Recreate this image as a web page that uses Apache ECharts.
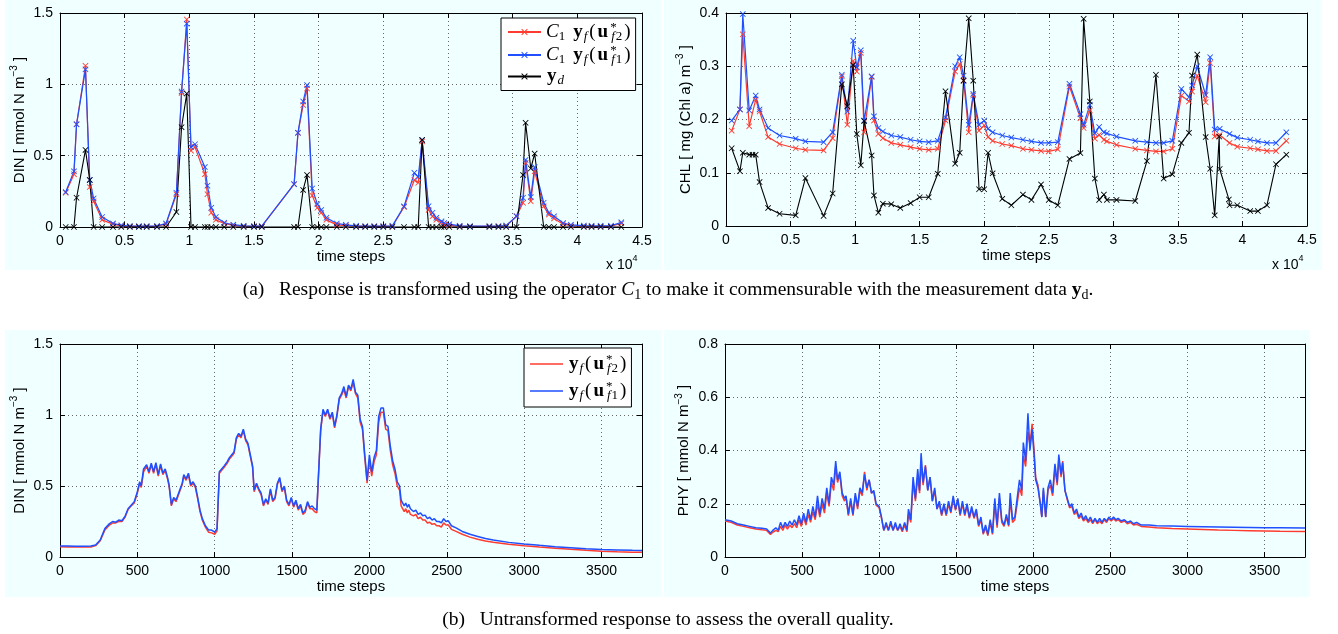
<!DOCTYPE html>
<html><head><meta charset="utf-8">
<script src="https://cdn.jsdelivr.net/npm/echarts@6/dist/echarts.min.js"></script>
<style>html,body{margin:0;padding:0;background:#fff}#c{width:1338px;height:634px}</style>
</head><body><div id="c"></div>
<script>
// ---------- (a) left: DIN, transformed response vs measurements ----------
const dinT = [440,1080,1280,1970,2300,2600,3260,4100,4740,5400,6100,6700,7500,8200,9000,9400,9800,10130,10440,11200,11400,11700,12050,12700,13400,14200,15000,15600,18100,18400,18800,19100,19500,19900,20200,20600,21400,22100,22900,23600,24300,25000,25700,26600,27400,27700,28000,28500,28800,29100,29500,29700,30100,30900,31700,33200,33900,34500,35300,35800,36000,36400,36700,37400,37800,38200,38900,39500,40500,41100,41800,42600,43400];
const dinFit2 = [0.24,0.37,0.72,1.13,0.28,0.18,0.05,0.02,0.008,0.005,0.005,0.005,0.006,0.02,0.23,0.94,1.455,0.535,0.56,0.37,0.23,0.10,0.05,0.025,0.012,0.006,0.005,0.005,0.30,0.66,0.855,0.97,0.22,0.135,0.10,0.05,0.015,0.01,0.006,0.005,0.005,0.005,0.006,0.14,0.33,0.31,0.60,0.12,0.075,0.05,0.03,0.015,0.012,0.006,0.005,0.005,0.005,0.008,0.075,0.17,0.45,0.18,0.39,0.145,0.087,0.06,0.02,0.01,0.005,0.005,0.005,0.005,0.025];
const dinFit1 = [0.245,0.39,0.72,1.105,0.33,0.20,0.07,0.025,0.012,0.007,0.006,0.006,0.007,0.025,0.24,0.95,1.425,0.56,0.58,0.42,0.29,0.135,0.07,0.03,0.016,0.008,0.006,0.006,0.30,0.66,0.88,0.995,0.27,0.16,0.12,0.065,0.025,0.015,0.008,0.006,0.006,0.006,0.008,0.145,0.38,0.35,0.61,0.146,0.10,0.064,0.04,0.028,0.02,0.008,0.006,0.006,0.006,0.01,0.075,0.205,0.47,0.21,0.42,0.17,0.10,0.075,0.028,0.015,0.01,0.008,0.008,0.008,0.033];
const dinObs = [0,0,0.205,0.54,0.33,0,0,0,0,0,0,0,0,0,0.105,0.70,0.935,0,0,0,0,0,0,0,0,0,0,0,0,0,0.26,0.365,0,0,0,0,0,0,0,0,0,0,0,0,0,0,0.61,0,0,0,0,0,0,0,0,0,0,0,0,0.365,0.73,0.41,0.515,0,0,0,0,0,0,0,0,0,0];

// ---------- (a) right: CHL ----------
const chlT = [440,1080,1300,1800,2050,2300,2600,3260,4150,5400,6150,7560,8260,8970,9400,9850,10130,10440,10700,11280,11460,11800,12150,12800,13500,14300,15000,15700,16400,17000,17750,18100,18400,18800,19150,19600,20000,20300,20650,21400,22100,23000,23660,24400,25000,25700,26600,27450,27700,28180,28570,28900,29270,29500,30250,31700,32600,33300,33900,34570,35270,35860,36100,36500,37150,37500,37850,38200,38240,38950,39000,39600,40600,41200,41900,42600,43400];
const chlFit2 = [0.179,0.219,0.36,0.1875,null,0.2375,0.215,0.167,0.154,0.146,0.143,0.142,0.165,0.281,0.19,0.31,0.29,0.325,0.176,0.28,0.198,0.173,0.165,0.156,0.1525,0.148,0.145,0.143,0.145,0.198,0.29,0.304,0.273,0.176,0.245,0.179,0.189,0.167,0.16,0.154,0.151,0.145,0.143,0.141,0.14,0.144,0.262,0.2025,0.184,0.217,0.164,0.171,0.162,0.159,0.1525,0.145,0.142,0.14,0.14,0.145,0.245,0.234,0.2525,0.2825,0.2325,0.306,0.168,null,0.171,null,0.156,0.149,0.146,0.144,0.141,0.141,0.16];
const chlFit1 = [0.198,0.219,0.398,0.217,null,0.245,0.219,0.184,0.17,0.164,0.159,0.1575,0.176,0.284,0.215,0.348,0.298,0.33,0.198,0.281,0.206,0.184,0.1775,0.17,0.167,0.162,0.159,0.1575,0.16,0.204,0.30,0.317,0.2825,0.19,0.248,0.19,0.198,0.1825,0.176,0.17,0.166,0.162,0.159,0.156,0.156,0.1575,0.267,0.21,0.19,0.2275,0.174,0.186,0.176,0.174,0.168,0.16,0.1575,0.156,0.156,0.16,0.2575,0.242,0.264,0.30,0.246,0.317,0.181,null,0.1825,null,0.173,0.166,0.162,0.159,0.156,0.156,0.176];
const chlObs = [0.146,0.103,0.1375,0.134,0.134,0.134,0.0825,0.034,0.023,0.02,0.09,0.019,0.061,0.266,0.225,0.3025,0.173,0.114,0.197,0.1325,0.0575,0.025,0.042,0.041,0.034,0.043,0.054,0.054,0.098,0.253,0.117,0.1375,0.273,0.39,0.273,0.069,0.069,0.1375,0.099,0.051,0.039,0.059,0.049,0.078,0.049,0.039,0.126,0.137,0.389,0.234,0.089,0.049,0.059,0.049,0.049,0.047,0.122,0.284,0.089,0.097,0.156,0.175,0.2825,0.322,0.167,0.1075,0.02,0.168,0.107,0.05,0.039,0.039,0.028,0.028,0.039,0.116,0.134];

// ---------- (b) left: DIN untransformed ----------
const dinFullT = [0,50,100,150,200,230,260,290,320,340,360,380,400,420,440,460,480,500,515,525,540,560,575,590,605,620,635,650,665,680,695,705,720,735,750,770,790,800,815,830,845,860,875,890,905,920,940,960,980,1000,1015,1030,1045,1060,1080,1095,1110,1125,1140,1155,1170,1185,1200,1215,1230,1245,1255,1270,1285,1300,1315,1330,1345,1360,1375,1390,1405,1420,1435,1450,1465,1480,1495,1510,1525,1540,1555,1570,1585,1600,1615,1630,1645,1660,1670,1685,1700,1715,1730,1745,1760,1775,1790,1805,1820,1835,1850,1865,1880,1895,1910,1925,1940,1955,1970,1985,2000,2015,2030,2045,2060,2075,2090,2105,2120,2135,2150,2165,2180,2195,2205,2215,2225,2235,2245,2255,2265,2275,2285,2300,2315,2330,2345,2360,2375,2390,2405,2420,2435,2450,2465,2480,2495,2510,2530,2560,2600,2650,2700,2750,2800,2900,3000,3100,3200,3300,3400,3500,3600,3700,3762];
const dinFull2 = [0.072,0.071,0.07,0.07,0.071,0.08,0.115,0.19,0.225,0.24,0.24,0.25,0.25,0.28,0.335,0.36,0.38,0.45,0.52,0.49,0.60,0.64,0.59,0.65,0.59,0.655,0.57,0.645,0.58,0.61,0.55,0.50,0.36,0.41,0.39,0.45,0.51,0.57,0.54,0.58,0.50,0.52,0.49,0.41,0.32,0.26,0.21,0.175,0.17,0.16,0.185,0.59,0.61,0.63,0.66,0.69,0.71,0.73,0.83,0.86,0.84,0.89,0.82,0.79,0.71,0.63,0.46,0.51,0.47,0.44,0.36,0.40,0.37,0.47,0.39,0.41,0.51,0.55,0.46,0.49,0.39,0.36,0.41,0.35,0.39,0.33,0.36,0.30,0.315,0.38,0.34,0.34,0.32,0.31,0.55,0.89,1.03,0.99,1.03,0.97,1.01,0.91,0.99,1.11,1.14,1.18,1.12,1.20,1.17,1.23,1.15,1.12,0.95,0.90,0.70,0.52,0.68,0.57,0.67,0.72,0.95,1.02,1.02,0.90,0.89,0.75,0.65,0.59,0.50,0.47,0.36,0.35,0.32,0.34,0.31,0.33,0.30,0.31,0.29,0.30,0.27,0.28,0.26,0.26,0.24,0.245,0.23,0.235,0.22,0.22,0.21,0.24,0.225,0.225,0.195,0.18,0.16,0.14,0.125,0.113,0.104,0.09,0.079,0.07,0.062,0.054,0.047,0.041,0.037,0.034,0.033];
const dinFull1 = [0.078,0.077,0.076,0.076,0.077,0.085,0.12,0.20,0.235,0.25,0.245,0.26,0.255,0.285,0.34,0.365,0.39,0.46,0.53,0.50,0.62,0.65,0.60,0.66,0.60,0.665,0.58,0.655,0.59,0.62,0.56,0.51,0.37,0.42,0.40,0.46,0.52,0.58,0.55,0.59,0.51,0.53,0.50,0.42,0.33,0.27,0.22,0.19,0.19,0.175,0.20,0.60,0.62,0.64,0.67,0.70,0.72,0.74,0.84,0.87,0.85,0.90,0.83,0.80,0.72,0.64,0.47,0.52,0.48,0.45,0.37,0.41,0.38,0.48,0.40,0.42,0.52,0.56,0.47,0.50,0.40,0.37,0.42,0.36,0.40,0.34,0.37,0.31,0.33,0.39,0.35,0.36,0.34,0.33,0.56,0.90,1.04,1.00,1.04,0.98,1.02,0.92,1.00,1.12,1.15,1.20,1.13,1.21,1.18,1.25,1.16,1.14,0.97,0.92,0.72,0.54,0.72,0.60,0.70,0.75,0.99,1.05,1.05,0.93,0.92,0.78,0.68,0.62,0.53,0.50,0.40,0.39,0.36,0.38,0.35,0.37,0.34,0.35,0.32,0.33,0.30,0.31,0.29,0.295,0.27,0.28,0.26,0.27,0.25,0.25,0.24,0.27,0.25,0.255,0.22,0.205,0.18,0.16,0.145,0.13,0.12,0.103,0.092,0.082,0.073,0.066,0.058,0.053,0.05,0.047,0.046];

// ---------- (b) right: PHY untransformed ----------
const phyT = [0,40,80,120,160,200,240,270,295,310,330,345,360,375,390,405,420,435,450,465,480,495,510,525,540,555,570,585,600,615,630,645,660,675,690,705,718,730,745,760,775,785,800,815,830,845,860,875,890,905,920,935,950,965,980,1000,1015,1030,1045,1060,1075,1090,1105,1120,1135,1150,1165,1180,1190,1205,1220,1235,1250,1262,1272,1285,1300,1315,1330,1345,1360,1375,1390,1405,1420,1435,1450,1465,1480,1495,1510,1525,1540,1555,1570,1585,1600,1615,1630,1645,1660,1675,1690,1705,1720,1735,1750,1765,1780,1795,1810,1825,1840,1850,1865,1880,1895,1910,1925,1935,1950,1965,1978,1992,2005,2015,2030,2045,2055,2065,2080,2095,2110,2125,2140,2155,2165,2180,2190,2205,2220,2235,2250,2265,2280,2295,2310,2325,2340,2355,2370,2385,2400,2415,2430,2445,2460,2475,2490,2505,2520,2535,2550,2570,2590,2610,2630,2650,2670,2700,2750,2800,2900,3000,3100,3200,3300,3400,3500,3600,3762];
const phy2 = [0.135,0.13,0.12,0.115,0.11,0.105,0.102,0.10,0.085,0.093,0.10,0.095,0.115,0.10,0.12,0.105,0.12,0.11,0.125,0.11,0.14,0.115,0.15,0.12,0.16,0.13,0.17,0.14,0.20,0.15,0.20,0.165,0.24,0.19,0.28,0.25,0.34,0.28,0.31,0.23,0.21,0.225,0.155,0.21,0.155,0.23,0.18,0.25,0.23,0.32,0.25,0.29,0.24,0.245,0.195,0.185,0.145,0.10,0.12,0.10,0.125,0.10,0.12,0.10,0.115,0.095,0.12,0.095,0.16,0.13,0.28,0.21,0.30,0.24,0.35,0.27,0.345,0.25,0.30,0.21,0.25,0.18,0.20,0.155,0.19,0.155,0.20,0.165,0.22,0.175,0.215,0.155,0.20,0.155,0.19,0.145,0.18,0.145,0.17,0.115,0.14,0.085,0.11,0.08,0.13,0.085,0.20,0.11,0.22,0.13,0.115,0.15,0.115,0.22,0.13,0.14,0.20,0.26,0.23,0.38,0.34,0.47,0.42,0.50,0.40,0.30,0.27,0.20,0.15,0.25,0.15,0.25,0.27,0.23,0.33,0.27,0.37,0.30,0.36,0.25,0.215,0.185,0.19,0.16,0.17,0.145,0.155,0.135,0.145,0.13,0.14,0.125,0.14,0.125,0.135,0.125,0.14,0.13,0.145,0.135,0.145,0.135,0.14,0.13,0.135,0.125,0.13,0.12,0.123,0.115,0.113,0.11,0.107,0.105,0.103,0.101,0.10,0.099,0.098,0.097,0.096];
const phy1 = [0.14,0.135,0.125,0.12,0.115,0.11,0.108,0.105,0.09,0.10,0.11,0.10,0.13,0.11,0.13,0.115,0.135,0.12,0.14,0.12,0.155,0.125,0.165,0.13,0.18,0.14,0.19,0.15,0.23,0.16,0.22,0.18,0.26,0.20,0.30,0.27,0.36,0.29,0.32,0.24,0.22,0.23,0.16,0.22,0.16,0.24,0.19,0.26,0.24,0.31,0.26,0.29,0.24,0.25,0.20,0.19,0.15,0.10,0.13,0.10,0.135,0.10,0.13,0.10,0.125,0.10,0.13,0.10,0.18,0.14,0.30,0.22,0.33,0.25,0.39,0.28,0.34,0.25,0.30,0.21,0.26,0.18,0.21,0.16,0.20,0.16,0.21,0.17,0.23,0.18,0.22,0.16,0.21,0.16,0.20,0.15,0.19,0.15,0.18,0.12,0.15,0.09,0.12,0.085,0.14,0.09,0.22,0.12,0.24,0.14,0.12,0.16,0.12,0.24,0.14,0.15,0.22,0.29,0.25,0.43,0.36,0.54,0.40,0.48,0.38,0.29,0.26,0.20,0.15,0.26,0.15,0.26,0.29,0.24,0.35,0.28,0.385,0.31,0.355,0.25,0.22,0.19,0.20,0.165,0.18,0.15,0.165,0.14,0.155,0.135,0.15,0.13,0.145,0.13,0.145,0.13,0.145,0.135,0.15,0.14,0.15,0.14,0.145,0.135,0.14,0.13,0.135,0.125,0.13,0.12,0.12,0.117,0.116,0.115,0.114,0.113,0.112,0.111,0.11,0.11,0.109];

const RED = '#ff3b30', BLUE = '#1f4fff', BLACK = '#000000';
const SANS = "'Liberation Sans', Arial, Helvetica, sans-serif";
const SERIF = "'Liberation Serif', 'Times New Roman', serif";
const XMARK = 'path://M0,1L1,0L5,4L9,0L10,1L6,5L10,9L9,10L5,6L1,10L0,9L4,5Z';

function pairs(xs, ys) { return xs.map((x, i) => [x, ys[i]]); }

const grids = [
  {left: 60, top: 13, width: 582, height: 214},
  {left: 726, top: 13, width: 581, height: 213},
  {left: 60, top: 344, width: 582, height: 213},
  {left: 725, top: 344, width: 580, height: 213}
];

function xPair(gi, max, interval, fmt, showMax) {
  return [
    {gridIndex: gi, type: 'value', min: 0, max: max, interval: interval, position: 'bottom',
     axisLine: {show: true, onZero: false, lineStyle: {color: '#000', width: 1}},
     axisTick: {show: true, inside: true, length: 5, lineStyle: {color: '#000'}},
     axisLabel: {color: '#000', fontSize: 14, fontFamily: SANS, margin: 7, formatter: fmt, showMaxLabel: showMax, showMinLabel: true, hideOverlap: false},
     splitLine: {show: true, lineStyle: {color: '#666', type: [1, 3], width: 1}},
     name: 'time steps', nameLocation: 'middle', nameGap: 22,
     nameTextStyle: {color: '#000', fontSize: 15, fontFamily: SANS}},
    {gridIndex: gi, type: 'value', min: 0, max: max, interval: interval, position: 'top',
     axisLine: {show: true, onZero: false, lineStyle: {color: '#000', width: 1}},
     axisTick: {show: true, inside: true, length: 5, lineStyle: {color: '#000'}},
     axisLabel: {show: false}, splitLine: {show: false}}
  ];
}
function yPair(gi, max, interval, name, gap) {
  return [
    {gridIndex: gi, type: 'value', min: 0, max: max, interval: interval, position: 'left',
     axisLine: {show: true, onZero: false, lineStyle: {color: '#000', width: 1}},
     axisTick: {show: true, inside: true, length: 5, lineStyle: {color: '#000'}},
     axisLabel: {color: '#000', fontSize: 14, fontFamily: SANS, margin: 7},
     splitLine: {show: true, lineStyle: {color: '#666', type: [1, 3], width: 1}},
     name: name, nameLocation: 'middle', nameGap: gap, nameRotate: 90,
     nameTextStyle: {color: '#000', fontSize: 15, fontFamily: SANS, lineHeight: 20,
       rich: {sup: {fontSize: 10, fontFamily: SANS, color: '#000', lineHeight: 11, verticalAlign: 'top'}}}},
    {gridIndex: gi, type: 'value', min: 0, max: max, interval: interval, position: 'right',
     axisLine: {show: true, onZero: false, lineStyle: {color: '#000', width: 1}},
     axisTick: {show: true, inside: true, length: 5, lineStyle: {color: '#000'}},
     axisLabel: {show: false}, splitLine: {show: false}}
  ];
}

const fmt4 = v => String(Math.round(v / 1000) / 10);
const fmtPlain = v => String(v);
const xAxis = [].concat(
  xPair(0, 45000, 5000, fmt4, true),
  xPair(1, 45000, 5000, fmt4, true),
  xPair(2, 3762, 500, fmtPlain, false),
  xPair(3, 3762, 500, fmtPlain, false)
);
const yAxis = [].concat(
  yPair(0, 1.5, 0.5, 'DIN [ mmol N m{sup|\u22123} ]', 28),
  yPair(1, 0.4, 0.1, 'CHL [ mg (Chl a) m{sup|\u22123} ]', 30),
  yPair(2, 1.5, 0.5, 'DIN [ mmol N m{sup|\u22123} ]', 30),
  yPair(3, 0.8, 0.2, 'PHY [ mmol N m{sup|\u22123} ]', 31)
);

function markSeries(name, xi, yi, xs, ys, color, width) {
  return {name: name, type: 'line', xAxisIndex: xi, yAxisIndex: yi, data: pairs(xs, ys),
    symbol: XMARK, symbolSize: 6, showSymbol: true, connectNulls: true,
    lineStyle: {color: color, width: width}, itemStyle: {color: color},
    emphasis: {disabled: true}, z: 3};
}
function plainSeries(name, xi, yi, xs, ys, color) {
  return {name: name, type: 'line', xAxisIndex: xi, yAxisIndex: yi, data: pairs(xs, ys),
    symbol: 'none', showSymbol: false, lineStyle: {color: color, width: 1.5},
    itemStyle: {color: color}, emphasis: {disabled: true}, z: 3};
}

const series = [
  markSeries('TL_f2', 0, 0, dinT, dinFit2, RED, 1.2),
  markSeries('TL_f1', 0, 0, dinT, dinFit1, BLUE, 1.2),
  markSeries('TL_d', 0, 0, dinT, dinObs, BLACK, 1.1),
  markSeries('TR_f2', 2, 2, chlT, chlFit2, RED, 1.2),
  markSeries('TR_f1', 2, 2, chlT, chlFit1, BLUE, 1.2),
  markSeries('TR_d', 2, 2, chlT, chlObs, BLACK, 1.1),
  plainSeries('BL_f2', 4, 4, dinFullT, dinFull2, RED),
  plainSeries('BL_f1', 4, 4, dinFullT, dinFull1, BLUE),
  plainSeries('BR_f2', 6, 6, phyT, phy2, RED),
  plainSeries('BR_f1', 6, 6, phyT, phy1, BLUE)
];

const legendRich = {
  rm: {fontFamily: SERIF, fontSize: 19, color: '#000', lineHeight: 22, padding: [0, 1, 0, 1]},
  it: {fontFamily: SERIF, fontSize: 19, fontStyle: 'italic', color: '#000', lineHeight: 22},
  b: {fontFamily: SERIF, fontSize: 19, fontWeight: 'bold', color: '#000', lineHeight: 22, padding: [0, 0, 0, 1]},
  sp: {fontFamily: SERIF, fontSize: 19, color: '#000', lineHeight: 22, width: 6},
  sub: {fontFamily: SERIF, fontSize: 13, color: '#000', lineHeight: 15, verticalAlign: 'bottom', padding: [0, 1, 0, 0]},
  subi: {fontFamily: SERIF, fontSize: 13, fontStyle: 'italic', color: '#000', lineHeight: 15, verticalAlign: 'bottom', padding: [0, 1, 0, 1]},
  sup: {fontFamily: SERIF, fontSize: 13, color: '#000', lineHeight: 14, verticalAlign: 'top', width: 0, padding: [0, 0, 0, 2]}
};
const legendText = {
  TL_f2: '{it|C}{sub|1}{sp| }{b|y}{subi|f}{rm|(}{b|u}{sup|*}{subi|f}{sub|2}{rm|)}',
  TL_f1: '{it|C}{sub|1}{sp| }{b|y}{subi|f}{rm|(}{b|u}{sup|*}{subi|f}{sub|1}{rm|)}',
  TL_d: '{b|y}{subi|d}',
  BL_f2: '{b|y}{subi|f}{rm|(}{b|u}{sup|*}{subi|f}{sub|2}{rm|)}',
  BL_f1: '{b|y}{subi|f}{rm|(}{b|u}{sup|*}{subi|f}{sub|1}{rm|)}'
};

const option = {
  animation: false,
  backgroundColor: '#ffffff',
  grid: grids,
  xAxis: xAxis,
  yAxis: yAxis,
  legend: [
    {data: ['TL_f2', 'TL_f1', 'TL_d'], orient: 'vertical', left: 501, top: 18,
     itemWidth: 33, itemHeight: 8, itemGap: 1, padding: [3, 4, 3, 6],
     backgroundColor: '#ffffff', borderColor: '#000', borderWidth: 1, borderRadius: 0,
     selectedMode: false, formatter: n => legendText[n], textStyle: {rich: legendRich, fontSize: 19}},
    {data: ['BL_f2', 'BL_f1'], orient: 'vertical', left: 524, top: 348,
     icon: 'rect', itemWidth: 33, itemHeight: 1.5, itemGap: 5, padding: [5, 4, 5, 6],
     backgroundColor: '#ffffff', borderColor: '#000', borderWidth: 1, borderRadius: 0,
     selectedMode: false, formatter: n => legendText[n], textStyle: {rich: legendRich, fontSize: 19}}
  ],
  graphic: {elements: [
    {type: 'rect', silent: true, z: -100, shape: {x: 5, y: 0, width: 657, height: 270}, style: {fill: '#f0ffff'}},
    {type: 'rect', silent: true, z: -100, shape: {x: 664, y: 0, width: 658, height: 270}, style: {fill: '#f0ffff'}},
    {type: 'rect', silent: true, z: -100, shape: {x: 5, y: 330, width: 657, height: 267}, style: {fill: '#f0ffff'}},
    {type: 'rect', silent: true, z: -100, shape: {x: 664, y: 330, width: 646, height: 267}, style: {fill: '#f0ffff'}},
    {type: 'text', left: 606, top: 254, silent: true, style: {text: '{a|x 10}{s|4}', rich: {
      a: {fontFamily: SANS, fontSize: 14, fill: '#000', lineHeight: 18, verticalAlign: 'bottom'},
      s: {fontFamily: SANS, fontSize: 9, fill: '#000', lineHeight: 10, verticalAlign: 'top'}}}},
    {type: 'text', left: 1272, top: 254, silent: true, style: {text: '{a|x 10}{s|4}', rich: {
      a: {fontFamily: SANS, fontSize: 14, fill: '#000', lineHeight: 18, verticalAlign: 'bottom'},
      s: {fontFamily: SANS, fontSize: 9, fill: '#000', lineHeight: 10, verticalAlign: 'top'}}}},
    {type: 'text', x: 668, y: 290, silent: true, style: {
      text: '{r|(a)   Response is transformed using the operator }{i|C}{s|1}{r| to make it commensurable with the measurement data }{b|y}{s|d}{r|.}',
      align: 'center', verticalAlign: 'middle', rich: {
      r: {fontFamily: SERIF, fontSize: 19.5, fill: '#000', lineHeight: 24},
      i: {fontFamily: SERIF, fontSize: 19.5, fontStyle: 'italic', fill: '#000', lineHeight: 24},
      b: {fontFamily: SERIF, fontSize: 19.5, fontWeight: 'bold', fill: '#000', lineHeight: 24},
      s: {fontFamily: SERIF, fontSize: 14, fill: '#000', lineHeight: 16, verticalAlign: 'bottom'}}}},
    {type: 'text', x: 668, y: 620, silent: true, style: {
      text: '(b)   Untransformed response to assess the overall quality.',
      align: 'center', verticalAlign: 'middle', fontFamily: SERIF, fontSize: 19.5, fill: '#000'}}
  ]},
  series: series
};

const chart = echarts.init(document.getElementById('c'), null, {renderer: 'canvas'});
chart.setOption(option);
</script>
</body></html>
